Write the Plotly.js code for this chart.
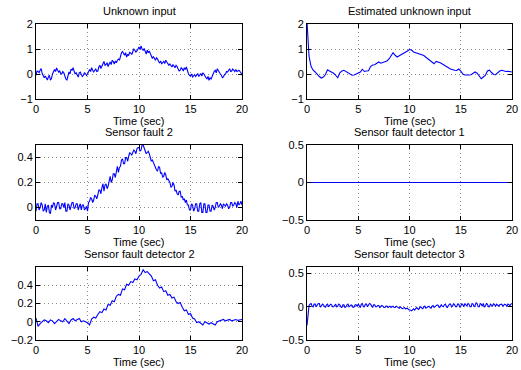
<!DOCTYPE html>
<html>
<head>
<meta charset="utf-8">
<script src="https://cdn.plot.ly/plotly-3.0.1.min.js"></script>
<style>html,body{margin:0;padding:0;background:#fff;}#chart{width:521px;height:370px;}</style>
</head>
<body>
<div id="chart"></div>
<script>
// time grid, 0.2 s step
const time = [0,0.2,0.4,0.6,0.8,1,1.2,1.4,1.6,1.8,2,2.2,2.4,2.6,2.8,3,3.2,3.4,3.6,3.8,
4,4.2,4.4,4.6,4.8,5,5.2,5.4,5.6,5.8,6,6.2,6.4,6.6,6.8,7,7.2,7.4,7.6,7.8,
8,8.2,8.4,8.6,8.8,9,9.2,9.4,9.6,9.8,10,10.2,10.4,10.6,10.8,11,11.2,11.4,11.6,11.8,
12,12.2,12.4,12.6,12.8,13,13.2,13.4,13.6,13.8,14,14.2,14.4,14.6,14.8,15,15.2,15.4,15.6,15.8,
16,16.2,16.4,16.6,16.8,17,17.2,17.4,17.6,17.8,18,18.2,18.4,18.6,18.8,19,19.2,19.4,19.6,19.8,20];

// time grid, 0.1 s step
const timeFine = [0,0.1,0.2,0.3,0.4,0.5,0.6,0.7,0.8,0.9,1,1.1,1.2,1.3,1.4,1.5,1.6,1.7,1.8,1.9,
2,2.1,2.2,2.3,2.4,2.5,2.6,2.7,2.8,2.9,3,3.1,3.2,3.3,3.4,3.5,3.6,3.7,3.8,3.9,
4,4.1,4.2,4.3,4.4,4.5,4.6,4.7,4.8,4.9,5,5.1,5.2,5.3,5.4,5.5,5.6,5.7,5.8,5.9,
6,6.1,6.2,6.3,6.4,6.5,6.6,6.7,6.8,6.9,7,7.1,7.2,7.3,7.4,7.5,7.6,7.7,7.8,7.9,
8,8.1,8.2,8.3,8.4,8.5,8.6,8.7,8.8,8.9,9,9.1,9.2,9.3,9.4,9.5,9.6,9.7,9.8,9.9,
10,10.1,10.2,10.3,10.4,10.5,10.6,10.7,10.8,10.9,11,11.1,11.2,11.3,11.4,11.5,11.6,11.7,11.8,11.9,
12,12.1,12.2,12.3,12.4,12.5,12.6,12.7,12.8,12.9,13,13.1,13.2,13.3,13.4,13.5,13.6,13.7,13.8,13.9,
14,14.1,14.2,14.3,14.4,14.5,14.6,14.7,14.8,14.9,15,15.1,15.2,15.3,15.4,15.5,15.6,15.7,15.8,15.9,
16,16.1,16.2,16.3,16.4,16.5,16.6,16.7,16.8,16.9,17,17.1,17.2,17.3,17.4,17.5,17.6,17.7,17.8,17.9,
18,18.1,18.2,18.3,18.4,18.5,18.6,18.7,18.8,18.9,19,19.1,19.2,19.3,19.4,19.5,19.6,19.7,19.8,19.9,20];

const unknownInput = [-0.05,0.12,0.1,0.05,0.15,0.22,0.02,-0.1,-0.15,-0.08,-0.2,-0.24,-0.12,-0.05,-0.25,-0.18,0.0,0.12,0.18,0.1,
0.24,0.15,0.08,0.12,0.02,0.0,0.1,0.05,-0.1,-0.2,-0.25,-0.1,0.08,0.0,0.2,0.15,0.25,0.12,0.0,0.05,
-0.08,-0.12,0.05,0.08,-0.02,-0.1,-0.05,0.05,0.02,-0.06,0.0,0.08,0.18,0.1,0.25,0.15,0.08,0.15,0.2,0.1,
0.12,0.28,0.35,0.22,0.3,0.4,0.5,0.35,0.38,0.45,0.3,0.4,0.48,0.38,0.55,0.5,0.4,0.52,0.45,0.55,
0.6,0.55,0.72,0.85,0.9,0.8,0.75,0.85,0.68,0.78,0.75,0.88,0.82,0.78,0.9,1.0,0.95,0.88,0.92,1.0,
1.08,0.98,1.12,1.0,0.95,1.02,0.88,0.8,0.95,0.85,0.92,0.8,0.75,0.62,0.7,0.6,0.55,0.65,0.6,0.5,
0.45,0.52,0.41,0.45,0.5,0.42,0.55,0.48,0.42,0.35,0.4,0.33,0.28,0.38,0.32,0.25,0.35,0.3,0.2,0.12,
0.15,0.25,0.21,0.12,0.25,0.18,0.28,0.1,0.01,-0.05,-0.08,0.0,-0.12,-0.08,-0.03,-0.1,-0.05,0.02,-0.1,-0.05,
0.02,-0.08,0.05,0.0,-0.1,-0.15,-0.19,-0.1,-0.25,-0.15,-0.2,-0.08,0.01,0.1,0.15,0.05,0.21,0.12,0.08,0.0,
-0.05,-0.15,-0.12,-0.02,0.0,0.1,0.08,0.15,0.21,0.1,0.12,0.2,0.15,0.1,0.18,0.1,0.12,0.15,0.1,0.05,
-0.05];

const estimatedInput = [2.1,0.7,0.3,0.15,0.08,-0.03,-0.1,-0.16,-0.12,-0.02,0.17,0.12,0.08,0.03,-0.05,-0.15,0.05,0.12,0.15,0.1,
0.05,-0.01,-0.05,-0.04,-0.01,0.02,0.08,0.19,0.1,0.12,0.13,0.3,0.36,0.37,0.42,0.48,0.43,0.45,0.48,0.52,
0.6,0.75,0.85,0.75,0.68,0.73,0.77,0.81,0.87,0.92,0.98,0.96,0.88,0.85,0.83,0.81,0.78,0.74,0.67,0.6,
0.55,0.45,0.41,0.5,0.48,0.45,0.4,0.36,0.32,0.25,0.2,0.16,0.15,0.14,0.2,0.12,0.0,-0.04,-0.05,-0.04,
-0.03,0.03,0.08,0.03,-0.1,-0.19,-0.12,-0.06,0.12,0.15,0.06,-0.02,-0.03,0.06,0.12,0.15,0.11,0.1,0.11,0.1,0.08];

const sensorFault2 = [-0.03,0.03,0.03,-0.02,0.0,0.04,0.02,-0.03,-0.02,0.03,-0.04,0.01,0.02,-0.04,-0.05,0.02,0.0,0.04,0.03,-0.02,
0.01,0.04,0.04,-0.01,-0.01,0.03,0.03,0.0,0.04,-0.03,-0.03,0.03,0.02,-0.02,0.01,0.04,0.04,-0.01,0.0,0.03,
0.03,-0.02,0.01,0.03,-0.02,0.02,0.02,-0.02,-0.01,0.01,-0.03,0.04,0.05,0.08,0.07,0.04,0.06,0.1,0.09,0.07,
0.1,0.14,0.14,0.11,0.16,0.19,0.13,0.18,0.19,0.15,0.17,0.23,0.25,0.2,0.22,0.27,0.27,0.24,0.3,0.33,
0.28,0.32,0.33,0.38,0.39,0.35,0.35,0.4,0.4,0.37,0.41,0.44,0.43,0.42,0.44,0.46,0.45,0.43,0.47,0.48,
0.48,0.45,0.46,0.5,0.5,0.47,0.46,0.43,0.44,0.45,0.43,0.39,0.37,0.38,0.36,0.33,0.32,0.3,0.29,0.33,
0.32,0.27,0.28,0.24,0.25,0.28,0.26,0.22,0.23,0.21,0.2,0.16,0.17,0.2,0.18,0.13,0.14,0.11,0.1,0.13,
0.13,0.08,0.09,0.06,0.07,0.04,0.06,0.02,0.02,-0.02,-0.02,0.03,0.02,-0.03,-0.01,0.03,0.03,-0.03,-0.03,0.03,
0.04,-0.04,-0.04,0.03,0.03,-0.04,-0.04,0.02,0.02,-0.03,-0.03,0.02,0.01,-0.02,0.0,0.04,0.04,0.0,0.01,0.03,
0.02,-0.01,0.03,0.02,0.01,0.03,0.02,-0.01,0.0,0.04,0.04,0.01,0.02,0.04,0.03,0.0,0.05,0.02,0.03,0.05,
0.02];

const detector1Time = [0, 20];
const detector1 = [0, 0];

const detector2 = [0.04,-0.05,-0.02,0.0,0.02,0.01,-0.01,0.02,0.01,-0.02,0.0,0.025,0.01,0.0,0.035,0.01,-0.02,0.02,0.035,0.01,
0.02,0.035,0.0,0.01,0.0,-0.01,-0.035,0.03,0.05,0.04,0.08,0.11,0.1,0.14,0.13,0.19,0.18,0.23,0.22,0.28,
0.3,0.29,0.36,0.35,0.41,0.4,0.44,0.43,0.47,0.46,0.5,0.52,0.57,0.54,0.55,0.52,0.5,0.45,0.46,0.4,
0.37,0.38,0.33,0.34,0.29,0.3,0.26,0.27,0.22,0.2,0.21,0.16,0.12,0.13,0.08,0.09,0.04,0.03,-0.01,0.0,
-0.02,-0.035,0.0,-0.01,-0.025,-0.01,-0.02,-0.035,0.0,0.01,0.02,0.025,0.01,0.02,0.025,0.01,0.02,0.025,0.015,0.02,0.025];

const detector3 = [-0.28,-0.05,0.02,0.04,0.05,0.01,0.0,0.04,0.04,0.0,0.02,0.05,0.05,0.0,0.01,0.04,0.03,0.0,-0.01,0.03,
0.04,0.0,0.02,0.04,0.03,0.0,0.0,0.03,0.04,0.0,0.01,0.04,0.03,0.0,-0.01,0.03,0.03,-0.01,0.0,0.03,
0.04,0.0,0.01,0.03,0.02,-0.01,0.0,0.03,0.03,0.01,0.04,0.0,-0.01,0.04,0.05,0.0,0.0,0.04,0.04,0.0,
0.02,0.05,0.04,0.0,-0.01,0.03,0.03,0.0,0.0,0.02,0.02,-0.01,0.0,0.02,0.01,-0.01,-0.01,0.01,0.01,-0.01,
0.0,0.01,-0.01,0.0,0.01,-0.01,-0.01,0.01,0.0,-0.02,-0.02,0.0,-0.01,-0.03,-0.02,-0.01,-0.03,-0.02,-0.02,-0.04,
-0.04,-0.05,-0.06,-0.04,-0.03,-0.05,-0.02,-0.01,-0.03,-0.04,-0.01,0.0,-0.02,-0.03,0.0,0.01,-0.02,-0.01,0.0,0.01,
-0.01,-0.02,0.01,0.02,-0.01,0.0,0.01,0.03,0.02,-0.01,0.0,0.03,0.01,0.0,0.03,0.04,0.0,-0.01,0.02,0.04,
0.04,0.0,0.01,0.05,0.03,0.0,0.0,0.04,0.04,0.0,0.01,0.05,0.03,0.0,0.05,0.02,0.01,0.05,0.04,0.0,
0.0,0.05,0.04,0.0,0.02,0.06,0.05,0.0,0.0,0.05,0.04,0.01,0.05,0.0,0.01,0.05,0.04,0.0,0.0,0.04,
0.03,0.01,0.05,0.02,0.01,0.04,0.02,0.01,0.03,0.04,0.04,0.01,0.02,0.04,0.03,0.01,0.04,0.03,0.02,0.04,
0.05];

const titles = ["Unknown input","Estimated unknown input","Sensor fault 2","Sensor fault detector 1","Sensor fault detector 2","Sensor fault detector 3"];
const xLabel = "Time (sec)";
const xTicks = [0,5,10,15,20];
const yTicks = [[-1,0,1,2],[-1,0,1,2],[0,0.2,0.4],[-0.5,0,0.5],[-0.2,0,0.2,0.4],[-0.5,0,0.5]];
const yRanges = [[-1,2],[-1,2],[-0.1,0.5],[-0.5,0.5],[-0.2,0.6],[-0.5,0.6]];

const W = 521, H = 370;
const colPx = [[36,242],[307,512]];
const rowPx = [[24,99],[145,220],[267,340]];

const seriesX = [timeFine, time, timeFine, detector1Time, time, timeFine];
const seriesY = [unknownInput, estimatedInput, sensorFault2, detector1, detector2, detector3];

const traces = [];
const layout = {
  width: W, height: H,
  margin: {l:0, r:0, t:0, b:0},
  paper_bgcolor: '#ffffff', plot_bgcolor: '#ffffff',
  showlegend: false,
  font: {family: 'Liberation Sans, Arial, Helvetica, sans-serif', size: 11, color: '#000'},
  annotations: []
};

for (let i = 0; i < 6; i++) {
  const r = Math.floor(i / 2), c = i % 2;
  const n = i + 1;
  const sfx = n === 1 ? '' : String(n);
  traces.push({
    x: seriesX[i], y: seriesY[i], type: 'scatter', mode: 'lines',
    xaxis: 'x' + sfx, yaxis: 'y' + sfx,
    line: {color: '#0000ff', width: 1.1},
    hoverinfo: 'skip'
  });
  const common = {
    showline: true, linecolor: '#000', linewidth: 1, mirror: 'ticks',
    ticks: 'inside', ticklen: 4, tickwidth: 1, tickcolor: '#000',
    showgrid: true, gridcolor: '#8c8c8c', gridwidth: 1, griddash: '1px,3px',
    zeroline: false, tickfont: {size: 11, color: '#000'}, fixedrange: true
  };
  layout['xaxis' + sfx] = Object.assign({}, common, {
    domain: [colPx[c][0] / W, colPx[c][1] / W],
    anchor: 'y' + sfx,
    range: [0, 20], tickvals: xTicks, ticktext: xTicks.map(String)
  });
  layout['yaxis' + sfx] = Object.assign({}, common, {
    domain: [1 - rowPx[r][1] / H, 1 - rowPx[r][0] / H],
    anchor: 'x' + sfx,
    range: yRanges[i], tickvals: yTicks[i],
    ticktext: yTicks[i].map(v => (v < 0 ? '\u2212' + String(-v) : String(v)))
  });
  const cx = (colPx[c][0] + colPx[c][1]) / 2 / W;
  layout.annotations.push({
    text: titles[i], xref: 'paper', yref: 'paper', x: cx, y: 1 - (rowPx[r][0] - 5) / H,
    xanchor: 'center', yanchor: 'bottom', showarrow: false, font: {size: 11, color: '#000'}
  });
  layout.annotations.push({
    text: xLabel, xref: 'paper', yref: 'paper', x: cx, y: 1 - (rowPx[r][1] + 14) / H,
    xanchor: 'center', yanchor: 'top', showarrow: false, font: {size: 11, color: '#000'}
  });
}

Plotly.newPlot('chart', traces, layout, {staticPlot: true, displayModeBar: false});
</script>
</body>
</html>
